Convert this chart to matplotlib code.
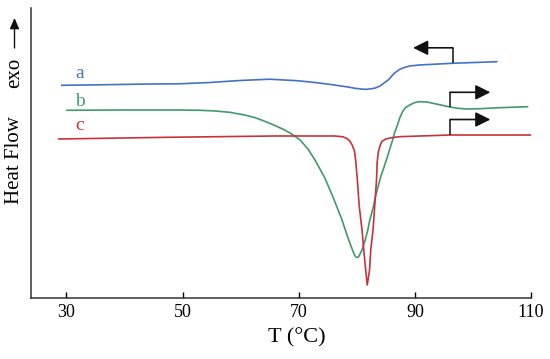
import matplotlib
matplotlib.use("Agg")
import matplotlib.pyplot as plt

# DSC traces (temperature in degC, heat flow in arbitrary units)
temp_a = [29.2, 35.8, 44.4, 49.5, 54.7, 59.9, 65.0, 69.7, 72.8, 75.9, 78.8, 79.7, 80.5,
          81.0, 81.7, 82.4, 83.1, 84.0, 84.8, 85.3, 85.7, 86.1, 86.5, 87.0, 87.4, 88.3,
          89.1, 90.8, 96.4, 104.1]
flow_a = [212.7, 213.2, 214.0, 214.2, 215.5, 217.5, 218.8, 217.3, 215.5, 213.2, 210.7, 209.7, 209.2,
          208.8, 208.7, 209.2, 209.8, 212.0, 215.5, 217.5, 219.7, 222.5, 225.0, 227.0, 228.7, 230.7,
          232.0, 233.0, 234.7, 236.3]

temp_b = [30.1, 39.2, 49.5, 53.0, 55.6, 58.1, 60.7, 62.4, 63.8, 64.8, 65.9, 67.3, 68.8,
          70.2, 71.6, 72.9, 74.5, 75.9, 77.4, 78.2, 78.8, 79.4, 79.7, 80.0, 80.3, 80.6,
          80.9, 81.4, 81.9, 82.2, 82.8, 83.2, 83.7, 84.1, 84.7, 85.2, 85.7, 86.2, 86.5,
          87.0, 87.4, 87.9, 88.4, 89.1, 90.0, 90.8, 92.1, 93.1, 94.5, 96.0, 97.4, 98.9,
          101.2, 104.6, 109.4]
flow_b = [187.7, 188.0, 188.0, 187.7, 187.0, 185.7, 183.0, 180.5, 177.5, 175.2, 172.5, 168.8, 164.0,
          158.2, 149.0, 137.0, 120.0, 101.0, 79.0, 65.0, 55.0, 46.0, 42.0, 40.5, 41.0, 44.5,
          48.0, 57.0, 68.0, 77.0, 90.0, 101.0, 112.0, 121.0, 131.0, 140.0, 149.5, 158.5, 165.0,
          173.0, 180.0, 186.5, 190.5, 193.0, 195.5, 196.3, 196.0, 194.7, 193.0, 191.0, 189.7, 189.0,
          189.3, 190.3, 191.3]

temp_c = [28.7, 47.3, 65.9, 76.2, 77.6, 78.3, 78.8, 79.2, 79.6, 79.8, 80.1, 80.4, 80.9,
          81.2, 81.5, 81.8, 82.2, 82.4, 82.8, 83.1, 83.4, 83.5, 83.7, 84.0, 84.3, 85.0,
          86.0, 87.4, 96.0, 110.0]
flow_c = [159.0, 160.7, 162.0, 162.0, 161.2, 159.5, 157.0, 153.0, 147.0, 138.0, 118.0, 93.0, 68.0,
          48.0, 30.0, 13.0, 28.0, 48.0, 68.0, 93.0, 118.0, 135.0, 146.0, 152.0, 156.5, 159.0,
          160.3, 161.3, 163.0, 163.0]

curve_names = ["a", "b", "c"]
curve_colors = ["#4472c4", "#3f9b6c", "#c9323b"]
label_temp = 32.3
label_flow = [219.7, 192.3, 168.0]

# heating-direction markers: (start T, start flow, corner flow, tip T)
arrow_marks = [
    (96.5, 234.7, 250.2, 89.7),
    (96.1, 191.0, 205.7, 103.0),
    (96.1, 163.0, 178.5, 103.0),
]

x_ticks = [30, 50, 70, 90, 110]

serif = ["Liberation Serif", "DejaVu Serif"]
plt.rcParams["font.family"] = serif

fig = plt.figure(figsize=(5.5, 3.59), dpi=100)
ax = fig.add_axes([31 / 550, 61 / 359, 500 / 550, 290 / 359])

for temps, flows, color in zip([temp_a, temp_b, temp_c], [flow_a, flow_b, flow_c], curve_colors):
    ax.plot(temps, flows, color=color, lw=1.2, solid_joinstyle="round")

for name, color, y in zip(curve_names, curve_colors, label_flow):
    ax.text(label_temp, y, name, color=color, fontsize=14, ha="center", va="baseline")

for x0, y0, y1, x1 in arrow_marks:
    ax.plot([x0, x0], [y0, y1], color="#222222", lw=1.2, solid_capstyle="butt")
    ax.annotate("", xy=(x1, y1), xytext=(x0 - 0.05 if x1 > x0 else x0 + 0.05, y1),
                arrowprops=dict(arrowstyle="-|>,head_length=0.9,head_width=0.45",
                                color="#111111", lw=1.2, mutation_scale=10,
                                shrinkA=0, shrinkB=0))

ax.set_xlim(23.9, 110)
ax.set_ylim(0, 290)
ax.set_xticks(x_ticks)
ax.set_yticks([])
ax.tick_params(axis="x", direction="in", length=4, width=1, pad=4, labelsize=13)
for side in ["top", "right"]:
    ax.spines[side].set_visible(False)
for side in ["left", "bottom"]:
    ax.spines[side].set_linewidth(1.1)
    ax.spines[side].set_color("#333333")

ax.set_xlabel("T (°C)", fontsize=16)
ax.xaxis.set_label_coords((297 - 31) / 500, -0.105)

# y label with the exo arrow
fig.text(19.5 / 550, 1 - 160 / 359, "Heat Flow", rotation=90, rotation_mode="anchor",
         ha="center", va="baseline", fontsize=15)
fig.text(19.5 / 550, 1 - 73 / 359, "exo", rotation=90, rotation_mode="anchor",
         ha="center", va="baseline", fontsize=15)
ax.annotate("", xy=(14.5 / 550, 1 - 18 / 359), xytext=(14.5 / 550, 1 - 48 / 359),
            xycoords="figure fraction", textcoords="figure fraction",
            arrowprops=dict(arrowstyle="-|>,head_length=0.8,head_width=0.35",
                            color="#111111", lw=1.0, mutation_scale=8,
                            shrinkA=0, shrinkB=0))

fig.savefig("out.png", dpi=100)
